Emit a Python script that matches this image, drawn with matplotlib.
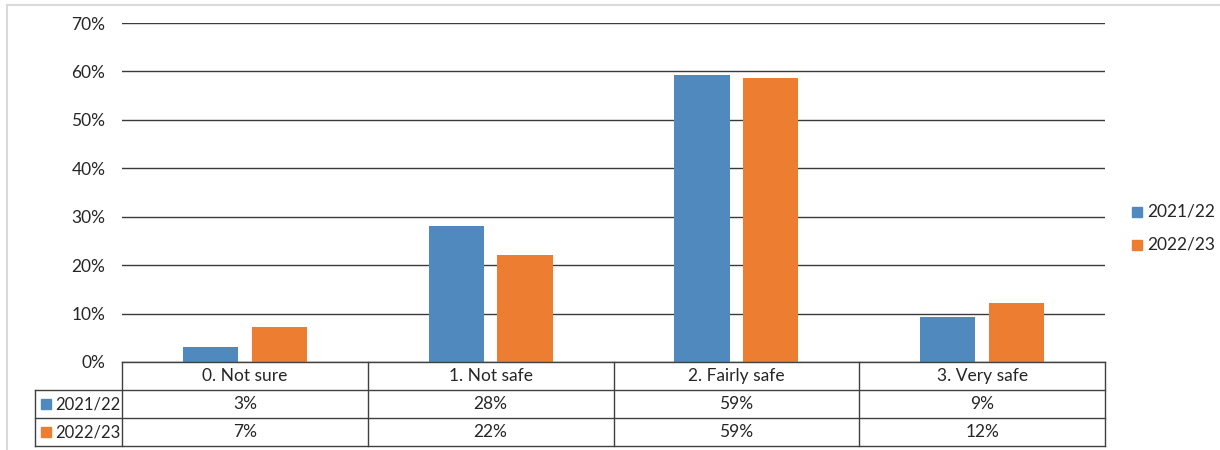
import numpy as np
import matplotlib.pyplot as plt
from matplotlib.transforms import blended_transform_factory
from matplotlib.patches import Rectangle
from matplotlib.lines import Line2D

plt.rcParams['font.family'] = ['Lato', 'DejaVu Sans']

categories = ['0. Not sure', '1. Not safe', '2. Fairly safe', '3. Very safe']
series = ['2021/22', '2022/23']
vals_2122 = [3.0, 28.1, 59.3, 9.2]
vals_2223 = [7.2, 22.0, 58.6, 12.2]
colors = ['#4F89BE', '#ED7D31']
txt = '#262626'
fs = 12.5

W, H = 1220, 450
fig = plt.figure(figsize=(W / 100, H / 100), dpi=100)

# plot area in pixels
x0, x1, ytop, ybot = 122, 1105, 23, 362
ax = fig.add_axes([x0 / W, 1 - ybot / H, (x1 - x0) / W, (ybot - ytop) / H])

x = np.arange(len(categories))
bw = 0.225
ax.bar(x - 0.14, vals_2122, bw, color=colors[0], zorder=3)
ax.bar(x + 0.14, vals_2223, bw, color=colors[1], zorder=3)

ax.set_xlim(-0.5, len(categories) - 0.5)
ax.set_ylim(0, 70)
ax.set_yticks(np.arange(0, 71, 10))
ax.set_yticklabels([f'{t}%' for t in range(0, 71, 10)], fontsize=fs, color=txt)
ax.yaxis.grid(True, color='#3a3a3a', lw=1)
ax.tick_params(axis='y', length=0, pad=12)
ax.set_xticks([])
for s in ax.spines.values():
    s.set_visible(False)

# data table below the plot
tr = blended_transform_factory(ax.transData, fig.transFigure)
row_h = 28
rows_y = [ybot, ybot + row_h, ybot + 2 * row_h, ybot + 3 * row_h]
fy = lambda py: 1 - py / H
fx = lambda px: px / W
lc = '#404040'

def fline(xs, ys):
    fig.add_artist(Line2D([fx(v) for v in xs], [fy(v) for v in ys], color=lc, lw=1))

fline([x0, x1], [rows_y[0]] * 2)
for ry in rows_y[1:]:
    fline([35, x1], [ry] * 2)
fline([35, 35], [rows_y[1], rows_y[3]])
for b in np.arange(len(categories) + 1) - 0.5:
    px = x0 + (b + 0.5) / len(categories) * (x1 - x0)
    fline([px, px], [rows_y[0], rows_y[3]])

for i, c in enumerate(categories):
    ax.text(i, fy(rows_y[0] + row_h / 2), c, transform=tr, ha='center', va='center',
            fontsize=fs, color=txt)
    ax.text(i, fy(rows_y[1] + row_h / 2), f'{vals_2122[i]:.0f}%', transform=tr,
            ha='center', va='center', fontsize=fs, color=txt)
    ax.text(i, fy(rows_y[2] + row_h / 2), f'{vals_2223[i]:.0f}%', transform=tr,
            ha='center', va='center', fontsize=fs, color=txt)

for k, name in enumerate(series):
    cy = rows_y[1 + k] + row_h / 2
    fig.add_artist(Rectangle((fx(41), fy(cy + 5)), 10 / W, 10 / H, color=colors[k]))
    fig.text(fx(55), fy(cy), name, ha='left', va='center', fontsize=12, color=txt)

# legend on the right
for k, name in enumerate(series):
    cy = 212 + k * 33
    fig.add_artist(Rectangle((fx(1132), fy(cy + 5)), 10 / W, 10 / H, color=colors[k]))
    fig.text(fx(1147), fy(cy), name, ha='left', va='center', fontsize=fs, color=txt)

# chart border
fig.add_artist(Line2D([fx(7), fx(1220)], [fy(5), fy(5)], color='#d9d9d9', lw=1.5))
fig.add_artist(Line2D([fx(7), fx(7)], [fy(5), fy(450)], color='#d9d9d9', lw=1.5))

fig.savefig('out.png', dpi=100, facecolor='white')
